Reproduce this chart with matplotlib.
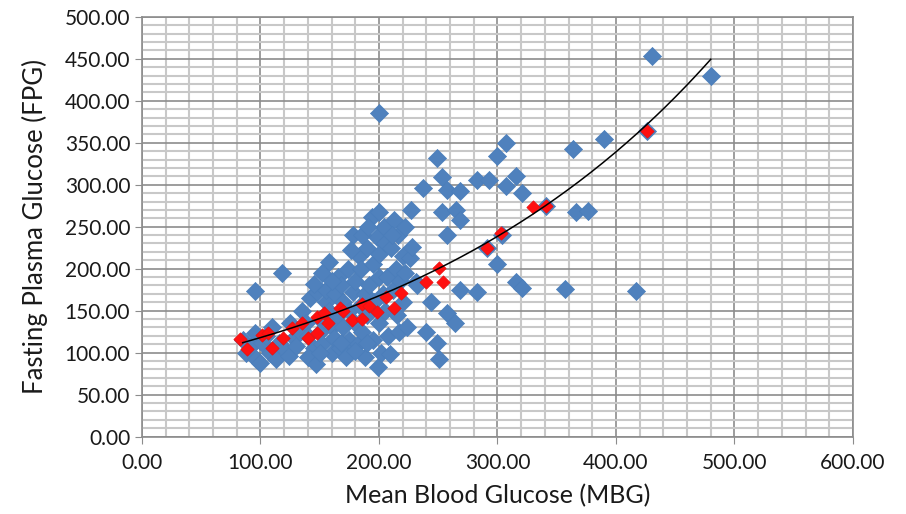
import numpy as np
import matplotlib.pyplot as plt
from matplotlib.ticker import MultipleLocator, FormatStrFormatter

blue_mbg = [85, 88, 92, 95, 96, 100, 101, 105, 108, 110, 113, 116, 120, 124, 128, 130, 133, 125,
            95, 118, 158,
            135, 138, 140, 142, 145, 140,
            147, 148, 150, 150, 152, 155, 155, 158, 160, 160,
            162, 163, 165, 165, 167, 168, 170, 170, 172, 174, 175, 175,
            178, 178, 180, 180, 182, 183, 184, 185, 186, 188, 188, 190, 190,
            192, 194, 195, 195, 196, 198, 199, 200, 200, 200, 200, 202, 203, 204, 205, 205,
            207, 208, 209, 210, 212, 213, 214, 215, 216, 217, 218, 220, 220,
            222, 224, 226, 227, 228, 231, 232,
            145, 152, 160, 176, 186, 191, 211, 222, 180, 190, 168, 150,
            237, 240, 244, 249, 251, 249, 253, 253, 257, 257, 257, 264, 265, 268, 268, 268,
            283, 283, 293, 300, 307, 307, 316, 321, 300, 316, 321, 357, 417,
            364, 390, 366, 376, 341, 304, 291, 426, 430, 480, 200]
blue_fpg = [115, 100, 108, 123, 92, 88, 112, 120, 100, 130, 92, 112, 104, 96, 118, 108, 125, 135,
            173, 195, 208,
            150, 135, 120, 165, 105, 95,
            87, 172, 140, 125, 110, 160, 175, 150, 100, 130,
            118, 170, 145, 190, 105, 180, 160, 130, 95, 200, 115, 150,
            240, 172, 135, 185, 110, 215, 155, 200, 125, 95, 170, 225, 145,
            180, 262, 115, 205, 160, 238, 83, 190, 135, 218, 267, 100, 170, 250, 230, 150,
            190, 120, 99, 225, 175, 258, 200, 145, 240, 125, 185, 160, 215,
            195, 130, 213, 270, 226, 184, 180,
            182, 195, 185, 222, 240, 250, 240, 250, 102, 112, 112, 100,
            296, 125, 160, 111, 93, 332, 309, 267, 294, 240, 147, 135, 270, 292, 258, 175,
            306, 172, 306, 334, 350, 298, 310, 290, 205, 184, 177, 176, 174,
            343, 355, 267, 269, 275, 240, 225, 364, 453, 429, 385]

# Predicted FPG (red)
red_mbg = [83, 89, 101, 106, 110, 119, 127, 135, 140, 148, 148, 154, 157, 167, 177, 186, 186,
           198, 206, 213, 219, 170, 192, 240, 251, 254, 291, 303, 330, 341, 426]
red_fpg = [116, 104, 121, 123, 105, 117, 129, 135, 117, 142, 124, 147, 135, 153, 139, 158, 140,
           148, 166, 153, 171, 150, 156, 184, 201, 184, 225, 243, 274, 275, 364]

x_ticks_major = 100
y_ticks_major = 50

plt.rcParams['font.family'] = ['Lato', 'DejaVu Sans']

fig = plt.figure(figsize=(9.06, 5.14), dpi=100)
ax = fig.add_axes([0.1567, 0.1504, 0.7848, 0.8171])

ax.scatter(blue_mbg, blue_fpg, marker='D', s=85, color='#4F81BD',
           edgecolors='#4A7EBB', linewidths=0.5, zorder=3)
ax.scatter(red_mbg, red_fpg, marker='D', s=46, color='#FF1010',
           edgecolors='#E81010', linewidths=0.5, zorder=4)

# exponential trendline like Excel: fit ln(y) against x
b, ln_a = np.polyfit(blue_mbg, np.log(blue_fpg), 1)
xs = np.linspace(min(blue_mbg), max(blue_mbg), 200)
ax.plot(xs, np.exp(ln_a + b * xs), color='black', linewidth=1.1, zorder=5)

ax.set_xlim(0, 600)
ax.set_ylim(0, 500)
ax.xaxis.set_major_locator(MultipleLocator(x_ticks_major))
ax.xaxis.set_minor_locator(MultipleLocator(20))
ax.yaxis.set_major_locator(MultipleLocator(y_ticks_major))
ax.yaxis.set_minor_locator(MultipleLocator(10))
ax.xaxis.set_major_formatter(FormatStrFormatter('%.2f'))
ax.yaxis.set_major_formatter(FormatStrFormatter('%.2f'))

ax.set_axisbelow(True)
ax.grid(which='minor', color='#c8c8c8', linewidth=1.5)
ax.grid(which='major', color='#8c8c8c', linewidth=1.2)
for sp in ax.spines.values():
    sp.set_color('#8c8c8c')
    sp.set_linewidth(1.2)

ax.tick_params(which='major', length=5, color='#8c8c8c', labelsize=15, labelcolor='#1a1a1a')
ax.tick_params(axis='x', which='major', pad=7)
ax.tick_params(which='minor', length=0)

ax.set_xlabel('Mean Blood Glucose (MBG)', fontsize=18, color='#1a1a1a', labelpad=8)
ax.set_ylabel('Fasting Plasma Glucose (FPG)', fontsize=18.5, color='#1a1a1a', labelpad=12)

fig.savefig('out.png', dpi=100)
